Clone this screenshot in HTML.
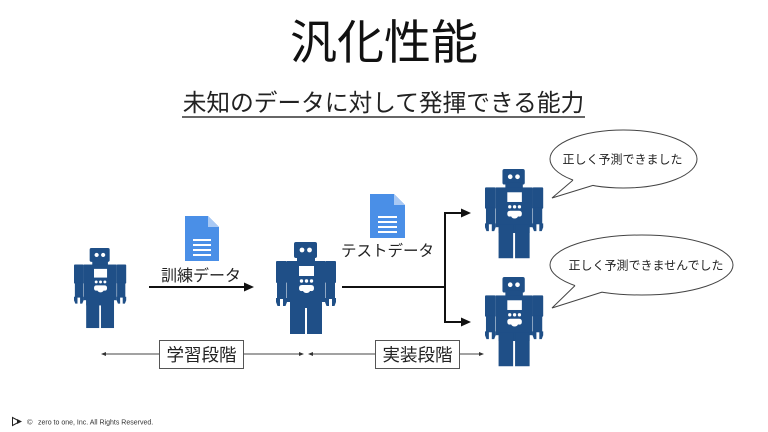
<!DOCTYPE html>
<html>
<head>
<meta charset="utf-8">
<style>
  html, body { margin:0; padding:0; background:#ffffff; }
  body { width:768px; height:432px; overflow:hidden; }
  svg { display:block; }
  .jp { font-family: "Liberation Sans", "Noto Sans CJK JP", sans-serif; }
</style>
</head>
<body>
<svg width="768" height="432" viewBox="0 0 768 432" xmlns="http://www.w3.org/2000/svg">
  <rect width="768" height="432" fill="#ffffff"/>

  <!-- Title -->
  <text x="384" y="59" text-anchor="middle" class="jp" font-size="47" fill="#111">汎化性能</text>
  <!-- Subtitle -->
  <text x="383.5" y="111" text-anchor="middle" class="jp" font-size="23.7" fill="#222">未知のデータに対して発揮できる能力</text>
  <line x1="182" y1="117" x2="585" y2="117" stroke="#333" stroke-width="1.5"/>

  <!-- Robot 1 -->
  <g transform="translate(74,248) scale(0.87)" fill="#1f4f87">
    <rect x="18" y="0" width="23" height="16" rx="2"/>
    <rect x="21" y="14" width="18" height="7"/>
    <rect x="11" y="19" width="38" height="41"/>
    <rect x="0" y="19" width="11" height="22" rx="1"/>
    <rect x="1" y="40" width="9.5" height="17"/>
    <path d="M0,56 L4,56 L4,64 L1.5,64 L0,60 Z"/>
    <path d="M7,56 L11,56 L11,60 L9.5,64 L7,64 Z"/>
    <rect x="49" y="19" width="11" height="22" rx="1"/>
    <rect x="49.5" y="40" width="9.5" height="17"/>
    <path d="M49,56 L53,56 L53,64 L50.5,64 L49,60 Z"/>
    <path d="M56,56 L60,56 L60,60 L58.5,64 L56,64 Z"/>
    <rect x="14" y="57" width="32" height="9"/>
    <rect x="14" y="57" width="15" height="35"/>
    <rect x="31" y="57" width="15" height="35"/>
    <g fill="#ffffff">
      <circle cx="26" cy="8" r="2.4"/>
      <circle cx="33.5" cy="8" r="2.4"/>
      <rect x="23" y="24" width="15" height="10"/>
      <circle cx="25.5" cy="39" r="1.7"/>
      <circle cx="30.5" cy="39" r="1.7"/>
      <circle cx="35.5" cy="39" r="1.7"/>
      <path d="M23,46 Q23,43 26,43 L35,43 Q38,43 38,46 Q38,49.5 35,49 L34,49 Q33,51 30.5,51 Q28,51 27,49 L26,49 Q23,49.5 23,46 Z"/>
    </g>
  </g>

  <!-- Robot 2 -->
  <g transform="translate(276,242) scale(1.0)" fill="#1f4f87">
    <rect x="18" y="0" width="23" height="16" rx="2"/>
    <rect x="21" y="14" width="18" height="7"/>
    <rect x="11" y="19" width="38" height="41"/>
    <rect x="0" y="19" width="11" height="22" rx="1"/>
    <rect x="1" y="40" width="9.5" height="17"/>
    <path d="M0,56 L4,56 L4,64 L1.5,64 L0,60 Z"/>
    <path d="M7,56 L11,56 L11,60 L9.5,64 L7,64 Z"/>
    <rect x="49" y="19" width="11" height="22" rx="1"/>
    <rect x="49.5" y="40" width="9.5" height="17"/>
    <path d="M49,56 L53,56 L53,64 L50.5,64 L49,60 Z"/>
    <path d="M56,56 L60,56 L60,60 L58.5,64 L56,64 Z"/>
    <rect x="14" y="57" width="32" height="9"/>
    <rect x="14" y="57" width="15" height="35"/>
    <rect x="31" y="57" width="15" height="35"/>
    <g fill="#ffffff">
      <circle cx="26" cy="8" r="2.4"/>
      <circle cx="33.5" cy="8" r="2.4"/>
      <rect x="23" y="24" width="15" height="10"/>
      <circle cx="25.5" cy="39" r="1.7"/>
      <circle cx="30.5" cy="39" r="1.7"/>
      <circle cx="35.5" cy="39" r="1.7"/>
      <path d="M23,46 Q23,43 26,43 L35,43 Q38,43 38,46 Q38,49.5 35,49 L34,49 Q33,51 30.5,51 Q28,51 27,49 L26,49 Q23,49.5 23,46 Z"/>
    </g>
  </g>

  <!-- Robot 3 -->
  <g transform="translate(485,169) scale(0.97)" fill="#1f4f87">
    <rect x="18" y="0" width="23" height="16" rx="2"/>
    <rect x="21" y="14" width="18" height="7"/>
    <rect x="11" y="19" width="38" height="41"/>
    <rect x="0" y="19" width="11" height="22" rx="1"/>
    <rect x="1" y="40" width="9.5" height="17"/>
    <path d="M0,56 L4,56 L4,64 L1.5,64 L0,60 Z"/>
    <path d="M7,56 L11,56 L11,60 L9.5,64 L7,64 Z"/>
    <rect x="49" y="19" width="11" height="22" rx="1"/>
    <rect x="49.5" y="40" width="9.5" height="17"/>
    <path d="M49,56 L53,56 L53,64 L50.5,64 L49,60 Z"/>
    <path d="M56,56 L60,56 L60,60 L58.5,64 L56,64 Z"/>
    <rect x="14" y="57" width="32" height="9"/>
    <rect x="14" y="57" width="15" height="35"/>
    <rect x="31" y="57" width="15" height="35"/>
    <g fill="#ffffff">
      <circle cx="26" cy="8" r="2.4"/>
      <circle cx="33.5" cy="8" r="2.4"/>
      <rect x="23" y="24" width="15" height="10"/>
      <circle cx="25.5" cy="39" r="1.7"/>
      <circle cx="30.5" cy="39" r="1.7"/>
      <circle cx="35.5" cy="39" r="1.7"/>
      <path d="M23,46 Q23,43 26,43 L35,43 Q38,43 38,46 Q38,49.5 35,49 L34,49 Q33,51 30.5,51 Q28,51 27,49 L26,49 Q23,49.5 23,46 Z"/>
    </g>
  </g>

  <!-- Robot 4 -->
  <g transform="translate(485,277) scale(0.97)" fill="#1f4f87">
    <rect x="18" y="0" width="23" height="16" rx="2"/>
    <rect x="21" y="14" width="18" height="7"/>
    <rect x="11" y="19" width="38" height="41"/>
    <rect x="0" y="19" width="11" height="22" rx="1"/>
    <rect x="1" y="40" width="9.5" height="17"/>
    <path d="M0,56 L4,56 L4,64 L1.5,64 L0,60 Z"/>
    <path d="M7,56 L11,56 L11,60 L9.5,64 L7,64 Z"/>
    <rect x="49" y="19" width="11" height="22" rx="1"/>
    <rect x="49.5" y="40" width="9.5" height="17"/>
    <path d="M49,56 L53,56 L53,64 L50.5,64 L49,60 Z"/>
    <path d="M56,56 L60,56 L60,60 L58.5,64 L56,64 Z"/>
    <rect x="14" y="57" width="32" height="9"/>
    <rect x="14" y="57" width="15" height="35"/>
    <rect x="31" y="57" width="15" height="35"/>
    <g fill="#ffffff">
      <circle cx="26" cy="8" r="2.4"/>
      <circle cx="33.5" cy="8" r="2.4"/>
      <rect x="23" y="24" width="15" height="10"/>
      <circle cx="25.5" cy="39" r="1.7"/>
      <circle cx="30.5" cy="39" r="1.7"/>
      <circle cx="35.5" cy="39" r="1.7"/>
      <path d="M23,46 Q23,43 26,43 L35,43 Q38,43 38,46 Q38,49.5 35,49 L34,49 Q33,51 30.5,51 Q28,51 27,49 L26,49 Q23,49.5 23,46 Z"/>
    </g>
  </g>

  <!-- Document icon 1 -->
  <g transform="translate(185,216)">
    <path d="M0,0 L23,0 L34,11 L34,45 L0,45 Z" fill="#4a8fe7"/>
    <path d="M23,0 L34,11 L23,11 Z" fill="#a9c9f4"/>
    <g fill="#ffffff">
      <rect x="8" y="23" width="18" height="2"/>
      <rect x="8" y="28" width="18" height="2"/>
      <rect x="8" y="33" width="18" height="2"/>
      <rect x="8" y="38" width="18" height="2"/>
    </g>
  </g>

  <!-- Document icon 2 -->
  <g transform="translate(370,194)">
    <path d="M0,0 L24,0 L35,11 L35,44 L0,44 Z" fill="#4a8fe7"/>
    <path d="M24,0 L35,11 L24,11 Z" fill="#a9c9f4"/>
    <g fill="#ffffff">
      <rect x="8" y="22" width="19" height="2"/>
      <rect x="8" y="27" width="19" height="2"/>
      <rect x="8" y="32" width="19" height="2"/>
      <rect x="8" y="37" width="19" height="2"/>
    </g>
  </g>

  <!-- Labels -->
  <text x="201" y="281" text-anchor="middle" class="jp" font-size="16" fill="#222">訓練データ</text>
  <text x="387.5" y="256" text-anchor="middle" class="jp" font-size="15.5" fill="#222">テストデータ</text>

  <!-- Arrow 1 -->
  <line x1="149" y1="287" x2="246" y2="287" stroke="#111" stroke-width="2"/>
  <polygon points="254,287 244,282.5 244,291.5" fill="#111"/>

  <!-- Branch arrows -->
  <line x1="342" y1="287" x2="446" y2="287" stroke="#111" stroke-width="2"/>
  <line x1="445" y1="212" x2="445" y2="323" stroke="#111" stroke-width="2"/>
  <line x1="444" y1="213" x2="463" y2="213" stroke="#111" stroke-width="2"/>
  <polygon points="471,213 461,208.5 461,217.5" fill="#111"/>
  <line x1="444" y1="322" x2="463" y2="322" stroke="#111" stroke-width="2"/>
  <polygon points="471,322 461,317.5 461,326.5" fill="#111"/>

  <!-- Balloon 1 -->
  <ellipse cx="623.5" cy="159" rx="73.5" ry="29" fill="#ffffff" stroke="#444" stroke-width="1"/>
  <polygon points="573,180.1 552,198 593,185.4 593,180 575,175" fill="#ffffff"/>
  <polyline points="573,180.1 552,198 593,185.4" fill="none" stroke="#444" stroke-width="1"/>
  <text x="622.5" y="163.5" text-anchor="middle" class="jp" font-size="12" fill="#222">正しく予測できました</text>

  <!-- Balloon 2 -->
  <ellipse cx="641.5" cy="265" rx="91.5" ry="30" fill="#ffffff" stroke="#444" stroke-width="1"/>
  <polygon points="575,285.6 552,308 602,292.1 602,287 577,281" fill="#ffffff"/>
  <polyline points="575,285.6 552,308 602,292.1" fill="none" stroke="#444" stroke-width="1"/>
  <text x="646" y="269.5" text-anchor="middle" class="jp" font-size="12" fill="#222">正しく予測できませんでした</text>

  <!-- Phase line -->
  <line x1="102" y1="354" x2="303" y2="354" stroke="#444" stroke-width="1"/>
  <polygon points="101,354 106,352 106,356" fill="#333"/>
  <polygon points="304,354 299,352 299,356" fill="#333"/>
  <line x1="309" y1="354" x2="483" y2="354" stroke="#444" stroke-width="1"/>
  <polygon points="308,354 313,352 313,356" fill="#333"/>
  <polygon points="484,354 479,352 479,356" fill="#333"/>

  <rect x="159.5" y="340.5" width="84" height="28" fill="#ffffff" stroke="#555" stroke-width="1"/>
  <text x="201.5" y="361" text-anchor="middle" class="jp" font-size="17.5" fill="#222">学習段階</text>
  <rect x="375.5" y="340.5" width="84" height="28" fill="#ffffff" stroke="#555" stroke-width="1"/>
  <text x="417.5" y="361" text-anchor="middle" class="jp" font-size="17.5" fill="#222">実装段階</text>

  <!-- Footer -->
  <polygon points="12.5,417.5 12.5,425.5 20,421.5" fill="none" stroke="#222" stroke-width="1"/>
  <polygon points="17,419 17,424 22,421.5" fill="#222"/>
  <text x="27" y="424.5" font-family="Liberation Sans, sans-serif" font-size="7.5" fill="#333">©</text>
  <text x="38" y="424.5" font-family="Liberation Sans, sans-serif" font-size="7" fill="#333">zero to one, Inc. All Rights Reserved.</text>
</svg>
</body>
</html>
